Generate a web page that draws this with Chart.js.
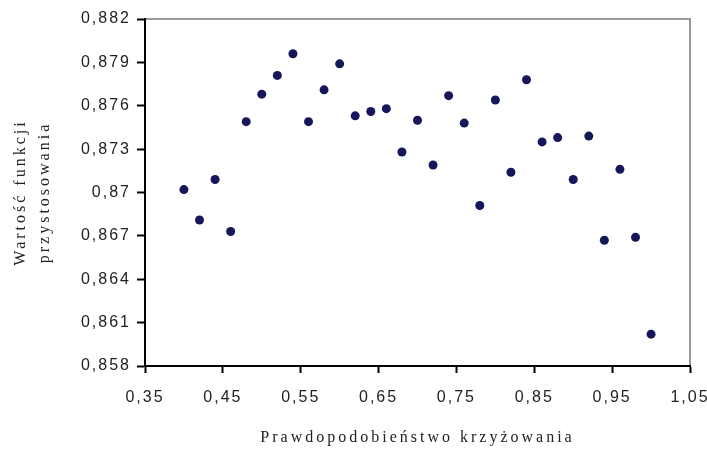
<!DOCTYPE html>
<html>
<head>
<meta charset="utf-8">
<script src="https://cdn.jsdelivr.net/npm/chart.js@4"></script>
<style>
  html, body { margin: 0; padding: 0; background: #fff; }
  #wrap { width: 707px; height: 450px; }
</style>
</head>
<body>
<div id="wrap"><canvas id="fitChart"></canvas></div>
<script>
// Data
const crossProb = [0.40, 0.42, 0.44, 0.46, 0.48, 0.50, 0.52, 0.54, 0.56, 0.58, 0.60,
  0.62, 0.64, 0.66, 0.68, 0.70, 0.72, 0.74, 0.76, 0.78, 0.80, 0.82, 0.84, 0.86,
  0.88, 0.90, 0.92, 0.94, 0.96, 0.98, 1.00];
const fitness = [0.8702, 0.8681, 0.8709, 0.8673, 0.8749, 0.8768, 0.8781, 0.8796,
  0.8749, 0.8771, 0.8789, 0.8753, 0.8756, 0.8758, 0.8728, 0.8750, 0.8719, 0.8767,
  0.8748, 0.8691, 0.8764, 0.8714, 0.8778, 0.8735, 0.8738, 0.8709, 0.8739, 0.8667,
  0.8716, 0.8669, 0.8602];
const xTicks = [0.35, 0.45, 0.55, 0.65, 0.75, 0.85, 0.95, 1.05];
const xTickLabels = ["0,35", "0,45", "0,55", "0,65", "0,75", "0,85", "0,95", "1,05"];
const yTicks = [0.858, 0.861, 0.864, 0.867, 0.870, 0.873, 0.876, 0.879, 0.882];
const yTickLabels = ["0,858", "0,861", "0,864", "0,867", "0,87", "0,873", "0,876", "0,879", "0,882"];

// stretched-looking text like the original picture
// (titles are drawn before the datasets, tick labels after them: ticks.z = 1)
const spacingPlugin = {
  id: "spacing",
  beforeDraw(chart) {
    chart.ctx.letterSpacing = "3px";
  },
  afterDatasetsDraw(chart) {
    chart.ctx.letterSpacing = "2px";
  },
};

// gray frame on top and right of the plot area
const framePlugin = {
  id: "frame",
  beforeDatasetsDraw(chart) {
    const { ctx, chartArea } = chart;
    ctx.save();
    ctx.strokeStyle = "#9a9a9a";
    ctx.lineWidth = 2;
    ctx.beginPath();
    ctx.moveTo(chartArea.left + 1, chartArea.top);
    ctx.lineTo(chartArea.right, chartArea.top);
    ctx.lineTo(chartArea.right, chartArea.bottom - 1);
    ctx.stroke();
    ctx.restore();
  },
};

const ctx = document.getElementById("fitChart").getContext("2d");
new Chart(ctx, {
  type: "scatter",
  data: {
    datasets: [
      {
        label: "Wartość funkcji przystosowania",
        data: crossProb.map((x, i) => ({ x: x, y: fitness[i] })),
        backgroundColor: "#16165a",
        borderColor: "#16165a",
        pointRadius: 4.5,
        pointHoverRadius: 4.5,
        borderWidth: 0,
      },
    ],
  },
  options: {
    responsive: true,
    maintainAspectRatio: false,
    animation: false,
    layout: { padding: { left: 0, top: 19, right: 17, bottom: 0 } },
    plugins: {
      legend: { display: false },
      tooltip: { enabled: false },
    },
    scales: {
      x: {
        type: "linear",
        min: 0.35,
        max: 1.05,
        afterBuildTicks: (scale) => {
          scale.ticks = xTicks.map((v) => ({ value: v }));
        },
        afterFit: (scale) => {
          scale.height = 84;
          scale.paddingLeft = 0;
          scale.paddingRight = 0;
        },
        ticks: {
          z: 1,
          color: "#222",
          font: { family: "Liberation Sans, Arial, sans-serif", size: 16 },
          padding: 15,
          maxRotation: 0,
          autoSkip: false,
          callback: (value, index) => xTickLabels[index],
        },
        grid: {
          drawOnChartArea: false,
          drawTicks: true,
          tickLength: 7,
          tickWidth: 2,
          color: "#000",
        },
        border: { color: "#000", width: 2 },
        title: {
          display: true,
          text: "Prawdopodobieństwo krzyżowania",
          color: "#222",
          font: { family: "Liberation Serif, Times New Roman, serif", size: 16, lineHeight: 1.2 },
          padding: { top: 0, bottom: 3 },
        },
      },
      y: {
        type: "linear",
        min: 0.858,
        max: 0.882,
        afterBuildTicks: (scale) => {
          scale.ticks = yTicks.map((v) => ({ value: v }));
        },
        afterFit: (scale) => {
          scale.width = 145;
          scale.paddingTop = 0;
          scale.paddingBottom = 0;
        },
        ticks: {
          z: 1,
          color: "#222",
          font: { family: "Liberation Sans, Arial, sans-serif", size: 16 },
          padding: 6,
          autoSkip: false,
          callback: (value, index) => yTickLabels[index],
        },
        grid: {
          drawOnChartArea: false,
          drawTicks: true,
          tickLength: 8,
          tickWidth: 2,
          color: "#000",
        },
        border: { color: "#000", width: 2 },
        title: {
          display: true,
          text: ["Wartość funkcji", "przystosowania"],
          color: "#222",
          font: { family: "Liberation Serif, Times New Roman, serif", size: 16, lineHeight: 1.55 },
          padding: { top: 8, bottom: 0 },
        },
      },
    },
  },
  plugins: [spacingPlugin, framePlugin],
});
</script>
</body>
</html>
